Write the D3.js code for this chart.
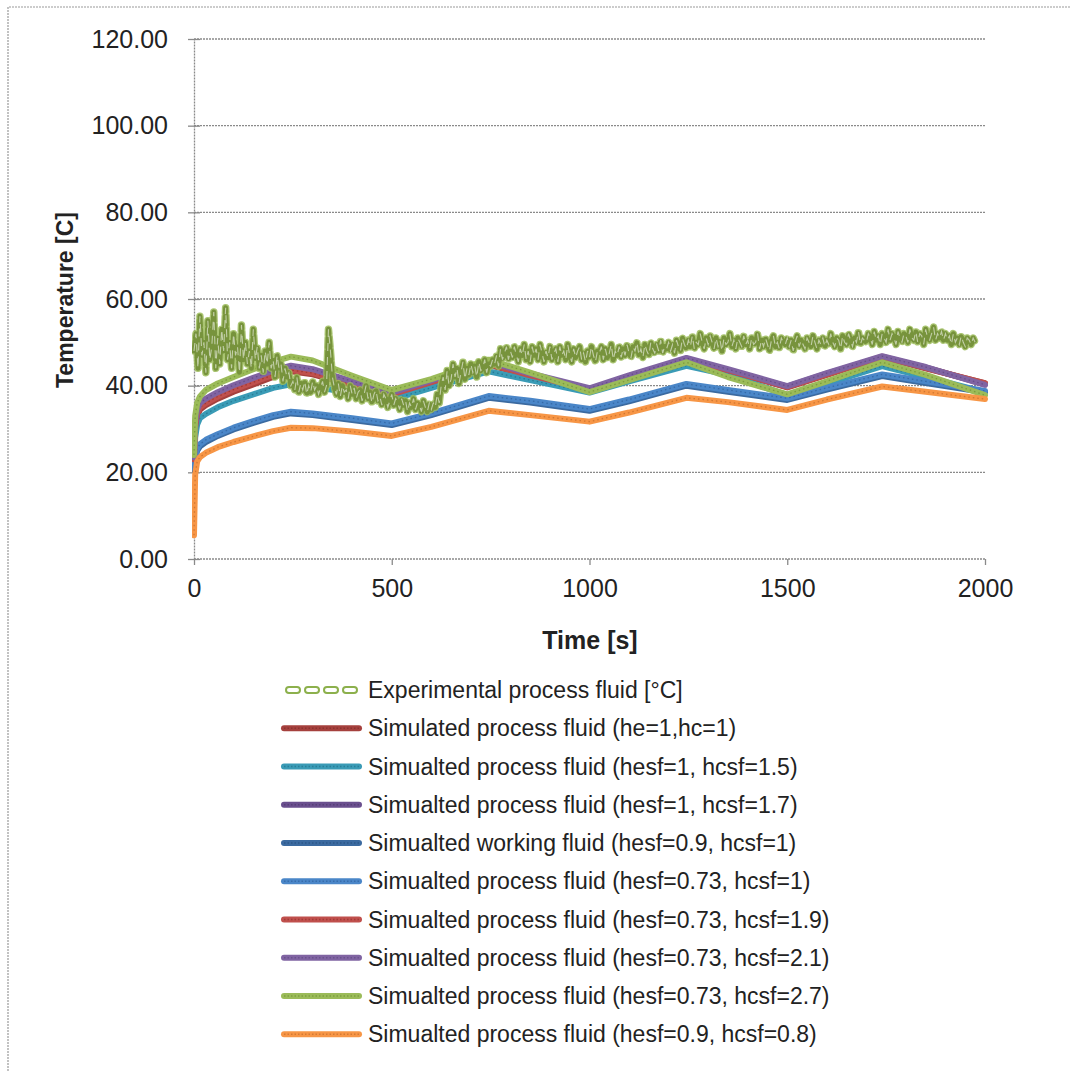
<!DOCTYPE html>
<html>
<head>
<meta charset="utf-8">
<script src="https://cdn.jsdelivr.net/npm/d3@7"></script>
<style>
html,body{margin:0;padding:0;background:#fff;}
text{font-family:"Liberation Sans",Arial,sans-serif;fill:#222;}
</style>
</head>
<body>
<svg id="chart" width="1071" height="1071"></svg>
<script>
// ---------------- DATA ----------------
const yTicks = [0, 20, 40, 60, 80, 100, 120];
const xTicks = [0, 500, 1000, 1500, 2000];

const seriesNames = [
  "Experimental process fluid [°C]",
  "Simulated process fluid (he=1,hc=1)",
  "Simualted process fluid (hesf=1, hcsf=1.5)",
  "Simualted process fluid (hesf=1, hcsf=1.7)",
  "Simualted working fluid (hesf=0.9, hcsf=1)",
  "Simualted process fluid (hesf=0.73, hcsf=1)",
  "Simualted process fluid (hesf=0.73, hcsf=1.9)",
  "Simualted process fluid (hesf=0.73, hcsf=2.1)",
  "Simualted process fluid (hesf=0.73, hcsf=2.7)",
  "Simualted process fluid (hesf=0.9, hcsf=0.8)"
];
const seriesColors = ["#77933C","#A5403D","#3A9BB6","#6A4F8E","#3B6AA0","#4A86C8","#C0504D","#8064A2","#9BBB59","#F79646"];
const seriesDark   = ["#5E7A28","#7A2B29","#1F6E86","#4B356A","#254C7A","#2D5E99","#8E2E2B","#5C4580","#6E8E32","#C0692A"];

// experimental samples, one every expStep seconds starting at 0 (each row = 100 s)
const expStep = 5;
const expValues = [
 48,52,44,56,47,50,43,55,46,49,57,44,51,45,53,48,58,46,50,44,
 52,47,49,43,54,46,50,45,48,44,53,46,49,44,47,43,48,45,50,44,
 46,42,47,44,45,41,44,42,43,40,41,39,42,38.5,40.5,39,41,38,40,38.5,
 41,39,40,38,39.5,41,38.5,40,53,48,42,39.5,38,40.5,37.5,40,38.5,39,37,40,
 38,39.5,37,38.5,39,36.5,38,40,37,38.5,36,38,39,36.5,37.5,35.5,38,37,35,36.5,
 38,35.5,37,36,34.5,37,35.5,36.5,34,36,35,37,34.5,36,35.5,34,36.5,35,34,36,
 34.5,36,35,38,36,40,42,39,43.5,40,41.5,45,42,44,40.5,43,45.5,41.5,44,42.5,
 45,43,44.5,42,45.5,43.5,44,46,43,45,44.5,46,45,47,44.5,48.5,46,47.5,49,46,
 48,46.5,49,47,45.5,48.5,47,49.5,46,48,45.5,49,47,48.5,46,49.5,47.5,45.5,48,46.5,
 49,46,47.5,48.5,45.5,49,47,48,46,49.5,47,45.5,48.5,46.5,48,49,46,47.5,45.5,48,
 46.5,49,47,45.5,48,47.5,49,46,48.5,46.5,47.5,49.5,46,48,47,49,46.5,48.5,47,49.5,
 47.5,46.5,49,48,50,47,48.5,46.5,49.5,48,47,50,48.5,47.5,49.5,48,50.5,47.5,49,48.5,
 50,48,49.5,47.5,50.5,49,48,51,49.5,48.5,50.5,49,51.5,48.5,50,49.5,52,50,48.5,51,
 49.5,51.5,50,48.5,51,49,50.5,48,51,49.5,50,52,49,50.5,48.5,51,50,49,51.5,49.5,
 50.5,48.5,51,49.5,50,52,48.5,50.5,49,51,49.5,48,50.5,51.5,49,50,48.5,51,50,49.5,
 51,49,50.5,48,50,51.5,49,50.5,49.5,48.5,51,50,49,51.5,50,48.5,50.5,49.5,51,49,
 50.5,49.5,52,50,49,51,50.5,48.5,51.5,50,49.5,52,50.5,49,51,50,52.5,49.5,51,50.5,
 50,52,51,49.5,52.5,50.5,51.5,49.5,52,51,50,53,50.5,52,51,49.5,52.5,51,50,52,
 51.5,50,53,51,50.5,52.5,50,52,51.5,49.5,53,51,50.5,52,53.5,50.5,52,51,52.5,50.5,
 52,50.5,51.5,49.5,52,50,51,49.5,51.5,50,49,51,50.5,49.5,51,50
];

// simulated series sampled at these times (s)
const simTimes = [0,3,8,15,30,60,100,150,200,245,300,400,500,600,745,850,1000,1100,1245,1350,1500,1600,1740,1850,2000];
const simHe1Hc1      = [23,30,33,34.5,35.5,37,38.6,40.3,42,43.3,42.6,40.2,37.8,40.5,44.8,42.3,39,41.8,46,43.5,39.6,42.5,46.6,44,40.6];
const simHesf1Hc15   = [22,28,31,32.5,33.5,35,36.5,38,39.5,40.3,39.8,38.3,36.8,39.5,43.3,41.3,38.4,41,44.6,42.5,37.8,40.5,44.5,42,38.5];
const simHesf1Hc17   = [23.5,31,34,35.5,36.5,38,39.6,41.3,43,44.3,43.5,40.8,38.2,41,45.2,42.6,39.2,42.2,46.2,43.6,39.8,42.8,46.6,44.2,40.3];
const simWorking     = [20.5,23,25,26,27,28.4,29.9,31.4,32.8,33.6,33.2,32.1,30.9,33.2,37.2,36.1,34.2,36.4,40,38.6,36.7,39.1,42.2,40.6,38.5];
const simHesf073Hc1  = [21,23.5,25.5,26.5,27.5,28.8,30.3,31.8,33.2,34,33.6,32.5,31.3,33.6,37.6,36.5,34.6,36.8,40.4,39,37.1,39.5,42.6,41,38.8];
const simHesf073Hc19 = [23,30.5,33.5,35,36,37.5,39.1,40.8,42.5,43.6,42.9,40.4,38,40.8,45,42.4,39.2,42,46,43.6,39.7,42.6,46.7,44.1,40.5];
const simHesf073Hc21 = [23.5,31.5,34.5,36,37,38.5,40.1,41.8,43.5,44.6,43.8,41,38.4,41.2,45.5,42.8,39.4,42.4,46.4,43.8,39.9,42.9,46.8,44.3,40.2];
const simHesf073Hc27 = [24,33,36,37.5,39,40.5,42,43.8,45.5,46.7,45.8,42.3,39,41.5,46,43,38.5,41.3,45.4,42,38,41,45.4,42.5,37.8];
const simHesf09Hc08  = [5.5,19.5,22.5,23.5,24.5,25.8,27,28.3,29.5,30.3,30.2,29.4,28.4,30.5,34.2,33.2,31.7,33.8,37.2,36.2,34.4,36.8,39.8,38.6,36.9];

const simSeries = [simHe1Hc1, simHesf1Hc15, simHesf1Hc17, simWorking, simHesf073Hc1, simHesf073Hc19, simHesf073Hc21, simHesf073Hc27, simHesf09Hc08];

// ---------------- CHART ----------------
const svg = d3.select("#chart");
const x = d3.scaleLinear().domain([0, 2000]).range([194, 985]);
const y = d3.scaleLinear().domain([0, 120]).range([559, 39]);

// outer frame (top & left visible)
svg.append("path").attr("d","M8,1071 L8,7 L1071,7").attr("fill","none").attr("stroke","#9a9a9a").attr("stroke-width",1.2).attr("stroke-dasharray","2,1");

// gridlines
svg.append("g").selectAll("line").data(yTicks).join("line")
  .attr("x1", x(0)).attr("x2", x(2000))
  .attr("y1", d => y(d)).attr("y2", d => y(d))
  .attr("stroke", "#8a8a8a").attr("stroke-width", 1.3).attr("stroke-dasharray", "2,1");

// y axis
const yAxis = d3.axisLeft(y).tickValues(yTicks).tickSize(0).tickPadding(26).tickFormat(d3.format(".2f"));
const gy = svg.append("g").attr("transform", `translate(${x(0)},0)`).call(yAxis);
gy.select(".domain").attr("stroke", "#8a8a8a").attr("stroke-width", 1.3).attr("stroke-dasharray","2,1");
gy.selectAll(".tick text").attr("font-size", 25).attr("fill","#222").attr("font-family","Liberation Sans, Arial, sans-serif");
gy.selectAll(".tick").append("line").attr("x1",-6).attr("x2",6).attr("stroke","#8a8a8a").attr("stroke-width",1.3);

// x axis
const xAxis = d3.axisBottom(x).tickValues(xTicks).tickSize(6).tickPadding(14).tickFormat(d3.format("d"));
const gx = svg.append("g").attr("transform", `translate(0,${y(0)})`).call(xAxis);
gx.select(".domain").remove();
gx.selectAll(".tick line").attr("stroke", "#8a8a8a").attr("stroke-width", 1.3);
gx.selectAll(".tick text").attr("font-size", 25).attr("fill","#222").attr("font-family","Liberation Sans, Arial, sans-serif");

// axis titles
svg.append("text").attr("x", 590).attr("y", 649).attr("text-anchor","middle")
  .attr("font-size", 25).attr("font-weight","bold").attr("fill","#000").text("Time [s]");
svg.append("text").attr("transform","translate(73,300) rotate(-90)").attr("text-anchor","middle")
  .attr("font-size", 23).attr("font-weight","bold").attr("fill","#000").text("Temperature [C]");

// clip
svg.append("defs").append("clipPath").attr("id","plotclip").append("rect")
  .attr("x", x(0)-2).attr("y", y(120)-10).attr("width", x(2000)-x(0)+10).attr("height", y(0)-y(120)+20);

const plot = svg.append("g").attr("clip-path","url(#plotclip)");
const line = d3.line().x(d => x(d[0])).y(d => y(d[1]));

// simulated lines
simSeries.forEach((vals, i) => {
  const pts = simTimes.map((t, j) => [t, vals[j]]);
  const si = i + 1;
  plot.append("path").datum(pts).attr("d", line).attr("fill","none")
    .attr("stroke", seriesColors[si]).attr("stroke-width", 6).attr("stroke-linejoin","round").attr("stroke-linecap","round");
  plot.append("path").datum(pts).attr("d", line).attr("fill","none")
    .attr("stroke", seriesDark[si]).attr("stroke-width", 1.3).attr("stroke-dasharray","1.5,3").attr("opacity",0.7);
});

// experimental
const expPts = expValues.map((v, i) => [i * expStep, v]);
plot.append("path").datum(expPts).attr("d", line).attr("fill","none")
  .attr("stroke", "#9BBB59").attr("stroke-width", 7.5).attr("stroke-dasharray","10,3").attr("stroke-linecap","round").attr("stroke-linejoin","round").attr("opacity",0.85);
plot.append("path").datum(expPts).attr("d", line).attr("fill","none")
  .attr("stroke", seriesColors[0]).attr("stroke-width", 5).attr("stroke-dasharray","10,3").attr("stroke-linecap","round").attr("stroke-linejoin","round");
plot.append("path").datum(expPts).attr("d", line).attr("fill","none")
  .attr("stroke", "#ffffff").attr("stroke-width", 1.1).attr("stroke-dasharray","8,6").attr("opacity",0.55);

// legend
const legX1 = 284, legX2 = 359, legTextX = 368, legY0 = 690, legDy = 38.25;
const leg = svg.append("g");
seriesNames.forEach((name, i) => {
  const yy = legY0 + i * legDy;
  if (i === 0) {
    const segs = [0,1,2,3];
    leg.selectAll(null).data(segs).join("rect")
      .attr("x", d => legX1 + 2 + d * 19).attr("y", yy - 3).attr("width", 14).attr("height", 6)
      .attr("rx", 3).attr("ry", 3).attr("fill","#fff").attr("stroke","#8CB04C").attr("stroke-width",2);
  } else {
    leg.append("line").attr("x1",legX1).attr("x2",legX2).attr("y1",yy).attr("y2",yy)
      .attr("stroke", seriesColors[i]).attr("stroke-width",6).attr("stroke-linecap","round");
    leg.append("line").attr("x1",legX1).attr("x2",legX2).attr("y1",yy).attr("y2",yy)
      .attr("stroke", seriesDark[i]).attr("stroke-width",1.3).attr("stroke-dasharray","1.5,2").attr("opacity",0.6);
  }
  leg.append("text").attr("x", legTextX).attr("y", yy).attr("dy","0.35em")
    .attr("font-size", 23).attr("fill","#222").text(name);
});
</script>
</body>
</html>
